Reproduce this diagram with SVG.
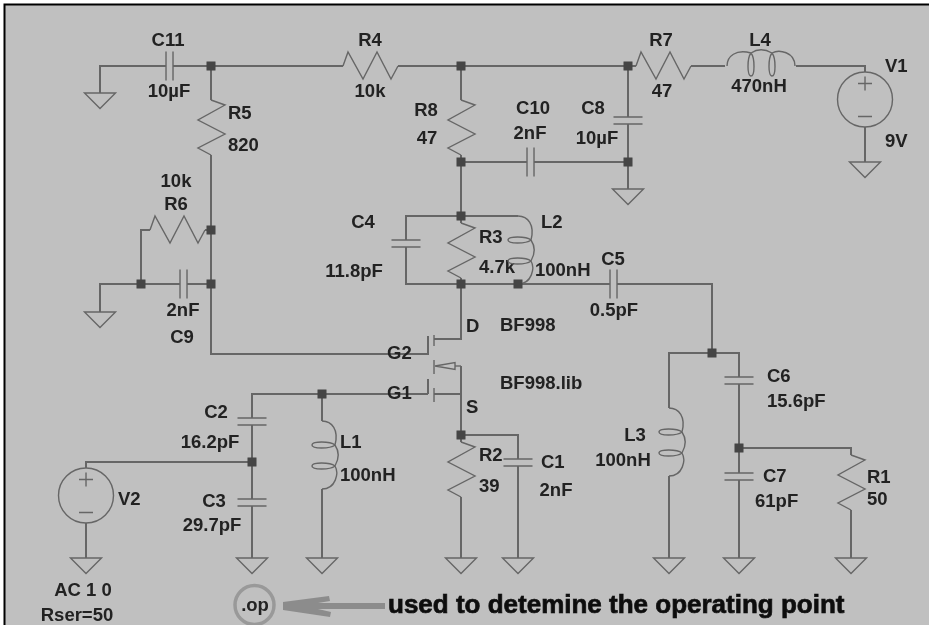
<svg xmlns="http://www.w3.org/2000/svg" xmlns:xlink="http://www.w3.org/1999/xlink" width="929" height="625" viewBox="0 0 929 625">
<style>
.w{fill:none;stroke:#666;stroke-width:2}
.s{fill:none;stroke:#666;stroke-width:1.4}
.d{fill:#444;stroke:none}
text{font-family:"Liberation Sans",Arial,sans-serif;font-weight:700;font-size:18.500px;fill:#222}
.m{text-anchor:middle}
</style>
<defs>
<filter id="soft" x="-2%" y="-2%" width="104%" height="104%"><feGaussianBlur stdDeviation="0.55"/></filter>
<path id="res" class="s" d="M0 0L14 5L-13 20L14 34L-13 48L0 55"/>
<path id="ind" class="s" d="M0 0C10 0 17 9 13 24C8 20-10 20-10 24C-10 28 8 28 13 24C17 30 17 38 13 45C8 41-10 41-10 45C-10 49 8 49 13 45C17 52 14 68 0 68"/>
<path id="cv" class="s" d="M-14.500 0H14.500M-14.500 7H14.500"/>
<path id="ch" class="s" d="M0-14.500V14.500M7-14.500V14.500"/>
<path id="gnd" class="s" d="M-15.500 0H15.500L0 15.500Z"/>
<g id="src"><circle class="s" r="27.500"/><path class="s" d="M-7-16H7M0-23V-9M-7 17H7"/></g>
<rect id="dot" class="d" x="-4.500" y="-4.500" width="9" height="9"/>
</defs>
<rect width="929" height="625" fill="#fff"/>
<rect x="4" y="4" width="925" height="621" fill="#c0c0c0"/>
<path d="M4.500 625V4.500H929" fill="none" stroke="#000" stroke-width="2"/>
<g filter="url(#soft)">
<g id="connectors">
<path class="w" d="M100 93V66H166M173 66H343M398 66H636M691 66H725M796 66H865V72"/>
<path class="w" d="M211 66V100M211 155V354H428V336M428 394V379M428 394H252V418M252 425V499M252 506V558"/>
<path class="w" d="M461 66V100M461 155V223M461 278V339H434M461 162H527M534 162H628M628 66V117M628 124V189"/>
<path class="w" d="M461 216H518M461 216H406V240M406 247V284H610M617 284H712V353M669 408V353H739V377M739 384V473M739 480V558M739 448H851V455M851 510V558"/>
<path class="w" d="M669 476V558M461 366V442M461 497V558M461 435H518V459M518 466V558"/>
<path class="s" d="M455 366H461"/>
<path class="w" d="M322 394V421M322 489V558M434 394H461"/>
<path class="w" d="M86 468V462H252M86 523V558M865 127V162"/>
<path class="w" d="M100 312V284H180M187 284H211M141 284V230H150M205 230H211"/>
</g>
<g id="C11"><use href="#ch" transform="translate(166 66)"/><text class="m" x="168" y="46">C11</text><text class="m" x="169" y="97">10µF</text></g>
<g id="R4"><use href="#res" transform="matrix(0 -1 1 0 343 66)"/><text class="m" x="370" y="46">R4</text><text class="m" x="370" y="97">10k</text></g>
<g id="R5"><use href="#res" transform="translate(211 100)"/><text x="228" y="119">R5</text><text x="228" y="151">820</text></g>
<g id="R6"><use href="#res" transform="matrix(0 -1 1 0 150 230)"/><text class="m" x="176" y="187">10k</text><text class="m" x="176" y="210">R6</text></g>
<g id="C9"><use href="#ch" transform="translate(180 284)"/><text class="m" x="183" y="316">2nF</text><text class="m" x="182" y="343">C9</text></g>
<g id="R8"><use href="#res" transform="translate(461 100)"/><text class="m" x="426" y="116">R8</text><text class="m" x="427" y="144">47</text></g>
<g id="C10"><use href="#ch" transform="translate(527 162)"/><text class="m" x="533" y="114">C10</text><text class="m" x="530" y="139">2nF</text></g>
<g id="C8"><use href="#cv" transform="translate(628 117)"/><text class="m" x="593" y="114">C8</text><text class="m" x="597" y="144">10µF</text></g>
<g id="R7"><use href="#res" transform="matrix(0 -1 1 0 636 66)"/><text class="m" x="661" y="46">R7</text><text class="m" x="662" y="97">47</text></g>
<g id="L4"><use href="#ind" transform="matrix(0 -1 1 0 727 66)"/><text class="m" x="760" y="46">L4</text><text class="m" x="759" y="92">470nH</text></g>
<g id="V1"><use href="#src" transform="translate(865 99.500)"/><text x="885" y="72">V1</text><text x="885" y="147">9V</text></g>
<g id="C4"><use href="#cv" transform="translate(406 240)"/><text class="m" x="363" y="228">C4</text><text class="m" x="354" y="277">11.8pF</text></g>
<g id="R3"><use href="#res" transform="translate(461 223)"/><text x="479" y="243">R3</text><text x="479" y="273">4.7k</text></g>
<g id="L2"><use href="#ind" transform="translate(518 216)"/><text x="541" y="228">L2</text><text x="535" y="276">100nH</text></g>
<g id="C5"><use href="#ch" transform="translate(610 284)"/><text class="m" x="613" y="265">C5</text><text class="m" x="614" y="316">0.5pF</text></g>
<g id="M1"><path class="s" d="M434 335V346M434 360V374M434 388V402"/><path class="s" d="M435 366L455 362.500V369.500Z"/><text x="466" y="332">D</text><text x="500" y="331">BF998</text><text x="500" y="389">BF998.lib</text><text x="466" y="413">S</text><text x="387" y="359">G2</text><text x="387" y="399">G1</text></g>
<g id="C2"><use href="#cv" transform="translate(252 418)"/><text class="m" x="216" y="418">C2</text><text class="m" x="210" y="448">16.2pF</text></g>
<g id="C3"><use href="#cv" transform="translate(252 499)"/><text class="m" x="214" y="507">C3</text><text class="m" x="212" y="531">29.7pF</text></g>
<g id="L1"><use href="#ind" transform="translate(322 421)"/><text x="340" y="448">L1</text><text x="340" y="481">100nH</text></g>
<g id="V2"><use href="#src" transform="translate(86 495.500)"/><text x="118" y="505">V2</text><text class="m" x="83" y="596">AC 1 0</text><text class="m" x="77" y="621">Rser=50</text></g>
<g id="R2"><use href="#res" transform="translate(461 442)"/><text x="479" y="461">R2</text><text x="479" y="492">39</text></g>
<g id="C1"><use href="#cv" transform="translate(518 459)"/><text x="541" y="468">C1</text><text class="m" x="556" y="496">2nF</text></g>
<g id="L3"><use href="#ind" transform="translate(669 408)"/><text class="m" x="635" y="441">L3</text><text class="m" x="623" y="466">100nH</text></g>
<g id="C6"><use href="#cv" transform="translate(739 377)"/><text x="767" y="382">C6</text><text x="767" y="407">15.6pF</text></g>
<g id="C7"><use href="#cv" transform="translate(739 473)"/><text x="763" y="482">C7</text><text x="755" y="507">61pF</text></g>
<g id="R1"><use href="#res" transform="translate(851 455)"/><text x="867" y="483">R1</text><text x="867" y="505">50</text></g>
<g id="grounds">
<use href="#gnd" x="100" y="93"/><use href="#gnd" x="100" y="312"/><use href="#gnd" x="628" y="189"/><use href="#gnd" x="865" y="162"/><use href="#gnd" x="86" y="558"/><use href="#gnd" x="252" y="558"/><use href="#gnd" x="322" y="558"/><use href="#gnd" x="461" y="558"/><use href="#gnd" x="518" y="558"/><use href="#gnd" x="669" y="558"/><use href="#gnd" x="739" y="558"/><use href="#gnd" x="851" y="558"/>
</g>
<g id="junctions">
<use href="#dot" x="211" y="66"/><use href="#dot" x="461" y="66"/><use href="#dot" x="628" y="66"/><use href="#dot" x="461" y="162"/><use href="#dot" x="628" y="162"/><use href="#dot" x="211" y="230"/><use href="#dot" x="211" y="284"/><use href="#dot" x="141" y="284"/><use href="#dot" x="461" y="216"/><use href="#dot" x="461" y="284"/><use href="#dot" x="518" y="284"/><use href="#dot" x="712" y="353"/><use href="#dot" x="322" y="394"/><use href="#dot" x="461" y="435"/><use href="#dot" x="739" y="448"/><use href="#dot" x="252" y="462"/>
</g>
<g id="op">
<circle cx="254.500" cy="605" r="19.500" fill="none" stroke="#999" stroke-width="3.500"/>
<text class="m" x="255" y="611">.op</text>
</g>
<g id="note">
<path d="M283 602L329 596L330 601L318 603H385V609H318L331 612L330 617L283 610Z" fill="#8c8c8c"/>
<text x="388" y="613" style="font-size:26px;stroke:#111;stroke-width:.7;fill:#111">used to detemine the operating point</text>
</g>
</g>
</svg>
